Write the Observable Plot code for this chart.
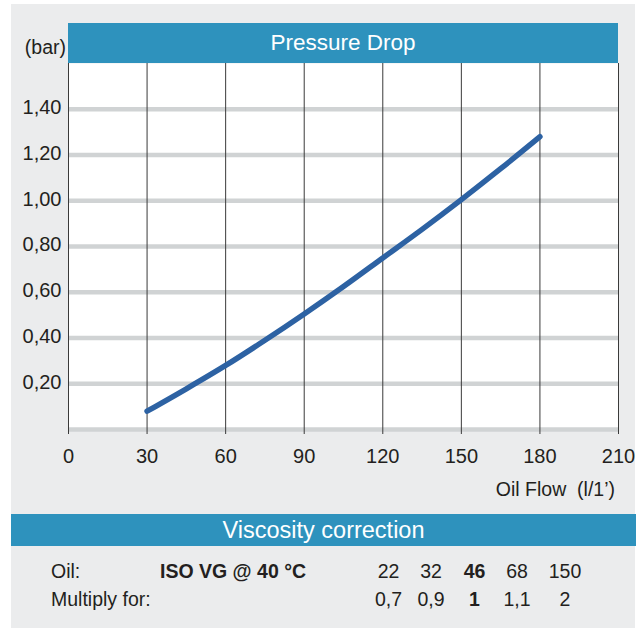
<!DOCTYPE html>
<html><head><meta charset="utf-8">
<script src="https://cdn.jsdelivr.net/npm/d3@7"></script>
<script src="https://cdn.jsdelivr.net/npm/@observablehq/plot@0.6"></script>
<style>
body{margin:0;background:#fff;font-family:"Liberation Sans",Arial,Helvetica,sans-serif;color:#231f20;}
#wrap{position:relative;width:642px;height:630px;overflow:hidden;}
.abs{position:absolute;white-space:nowrap;}
</style></head><body><div id="wrap">
<div class="abs" style="left:11px;top:4px;width:624px;height:510px;background:#ebeced"></div>
<div id="chart" class="abs" style="left:0;top:0"></div>
<div class="abs" style="left:68px;top:23px;width:550px;height:40px;background:#2e92bd;color:#fff;font-size:22.5px;line-height:40px;text-align:center">Pressure Drop</div>
<div class="abs" style="right:576px;top:36px;font-size:19.5px;line-height:22px">(bar)</div>
<div class="abs" style="right:27px;top:478px;font-size:19.5px;line-height:22px">Oil Flow&nbsp;&nbsp;(l/1’)</div>
<div class="abs" style="left:11px;top:514px;width:625px;height:32px;background:#2e92bd;color:#fff;font-size:23.5px;line-height:32px;text-align:center">Viscosity correction</div>
<div class="abs" style="left:11px;top:546px;width:624px;height:82px;background:#ebeced"></div>
<div id="table"></div>
</div>
<script>
// Pressure drop curve (bar) vs oil flow (l/min)
const flow = [30, 45, 60, 75, 90, 105, 120, 135, 150, 165, 180];
const drop = [0.08, 0.178, 0.28, 0.39, 0.505, 0.625, 0.75, 0.875, 1.005, 1.14, 1.28];
const xTicks = [0, 30, 60, 90, 120, 150, 180, 210];
const yTicks = [0.2, 0.4, 0.6, 0.8, 1.0, 1.2, 1.4];
const gridY = [0, 0.2, 0.4, 0.6, 0.8, 1.0, 1.2, 1.4];
// Viscosity correction table
const oilGrades = ["22", "32", "46", "68", "150"];
const multipliers = ["0,7", "0,9", "1", "1,1", "2"];
const referenceGrade = "46";

const data = flow.map((f, i) => ({flow: f, drop: drop[i]}));

const chart = Plot.plot({
  width: 642, height: 504,
  marginLeft: 68, marginRight: 24, marginTop: 63, marginBottom: 75,
  style: {background: "transparent", fontFamily: "Liberation Sans, Arial, sans-serif", fontSize: "20px", color: "#231f20"},
  x: {domain: [0, 210]},
  y: {domain: [0, 1.6]},
  marks: [
    Plot.frame({fill: "white", stroke: null}),
    Plot.ruleY(gridY, {stroke: "#d0d3d4", strokeWidth: 4.5}),
    Plot.ruleX(xTicks, {stroke: "#3a3a3a", strokeWidth: 1}),
    Plot.axisX(xTicks, {tickSize: 5, tickPadding: 14, fontSize: 20, label: null, stroke: "#3a3a3a"}),
    Plot.axisY(yTicks, {tickSize: 0, tickPadding: 7, fontSize: 20, dy: -1.5, label: null, tickFormat: d => d.toFixed(2).replace(".", ",")}),
    Plot.line(data, {x: "flow", y: "drop", stroke: "#2d62a3", strokeWidth: 5.5, strokeLinecap: "round", curve: "monotone-x"})
  ]
});
document.getElementById("chart").appendChild(chart);

// table text
const wrap = document.getElementById("wrap");
function addText(txt, left, top, opts = {}) {
  const d = document.createElement("div");
  d.className = "abs";
  d.textContent = txt;
  d.style.left = left + "px";
  d.style.top = top + "px";
  d.style.fontSize = "19.5px";
  d.style.lineHeight = "22px";
  if (opts.width) { d.style.width = opts.width + "px"; d.style.textAlign = "center"; }
  if (opts.bold) d.style.fontWeight = "bold";
  wrap.appendChild(d);
}
const row1 = 559.5, row2 = 588;
addText("Oil:", 51, row1);
addText("ISO VG @ 40 °C", 160, row1, {bold: true});
addText("Multiply for:", 51, row2);
const colX = [388.5, 431, 474.5, 517, 565];
oilGrades.forEach((g, i) => {
  const bold = g === referenceGrade;
  addText(g, colX[i] - 25, row1, {width: 50, bold});
  addText(multipliers[i], colX[i] - 25, row2, {width: 50, bold});
});
</script>
</body></html>
